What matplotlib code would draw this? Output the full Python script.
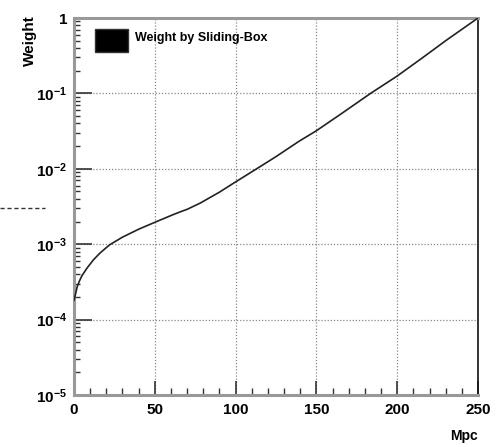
import numpy as np
import matplotlib
matplotlib.use('Agg')
import matplotlib.pyplot as plt
from matplotlib.lines import Line2D
from matplotlib.patches import Rectangle
from matplotlib.ticker import FixedLocator, NullFormatter

plt.rcParams['font.family'] = ['Liberation Sans', 'DejaVu Sans']
plt.rcParams['font.weight'] = 'bold'
plt.rcParams['mathtext.fontset'] = 'custom'
plt.rcParams['mathtext.rm'] = 'Liberation Sans:bold'
plt.rcParams['mathtext.default'] = 'rm'

# weight vs distance (Mpc)
mpc = [0, 1, 2, 3.5, 5, 8, 12, 16, 22, 30, 40, 50, 60, 65, 70, 78, 90, 98,
       113, 125, 139, 150, 165, 183.5, 200, 215, 230, 250]
weight = [1.8e-4, 2.2e-4, 2.75e-4, 3.3e-4, 3.85e-4, 4.8e-4, 6.2e-4, 7.6e-4,
          9.8e-4, 1.24e-3, 1.58e-3, 1.95e-3, 2.4e-3, 2.65e-3, 2.9e-3, 3.5e-3,
          4.9e-3, 6.3e-3, 1.0e-2, 1.45e-2, 2.3e-2, 3.2e-2, 5.3e-2, 0.1, 0.17,
          0.29, 0.5, 1.0]

xticks = [0, 50, 100, 150, 200, 250]
yticks = [1e-5, 1e-4, 1e-3, 1e-2, 1e-1, 1]
ylabels = ['10$^{-5}$', '10$^{-4}$', '10$^{-3}$', '10$^{-2}$', '10$^{-1}$', '1']

fig = plt.figure(figsize=(5.01, 4.47), dpi=100)
ax = fig.add_axes([74/501, 1 - 395/447, 404/501, 377/447])

ax.plot(mpc, weight, color='#222222', lw=1.2, zorder=3)
ax.set_yscale('log')
ax.set_xlim(0, 250)
ax.set_ylim(1e-5, 1)

ax.xaxis.set_major_locator(FixedLocator(xticks))
ax.xaxis.set_minor_locator(FixedLocator(np.arange(0, 251, 10)))
ax.set_xticklabels([str(t) for t in xticks])
ax.yaxis.set_major_locator(FixedLocator(yticks))
minors = [m * 10.0**e for e in range(-5, 0) for m in range(2, 10)]
ax.yaxis.set_minor_locator(FixedLocator(minors))
ax.yaxis.set_minor_formatter(NullFormatter())
ax.set_yticklabels(ylabels)

ax.tick_params(axis='both', which='both', direction='in', color='#333333',
               labelsize=11, top=False, right=False)
ax.tick_params(axis='x', which='major', length=10, width=1.2, pad=6)
ax.tick_params(axis='x', which='minor', length=5, width=1.0)
ax.tick_params(axis='y', which='major', length=13, width=1.2, pad=5)
ax.tick_params(axis='y', which='minor', length=4.5, width=1.0)

ax.grid(True, which='major', ls=(0, (1, 1.5)), color='#888888', lw=0.9)

for s in ['left', 'bottom', 'top']:
    ax.spines[s].set_color('#999999')
    ax.spines[s].set_linewidth(2.2)
ax.spines['right'].set_color('#111111')
ax.spines['right'].set_linewidth(1.2)

fig.text(30/501, 1 - 15/447, 'Weight', rotation=90, ha='center', va='top',
         fontsize=11, fontweight='bold')
fig.text(478/501, 1 - 436/447, 'Mpc', ha='right', va='center',
         fontsize=10, fontweight='bold')

# legend box
fig.patches.append(Rectangle((95/501, 1 - 52/447), 33/501, 23/447,
                             transform=fig.transFigure, facecolor='black',
                             edgecolor='#333333', lw=1))
fig.text(135/501, 1 - 38/447, 'Weight by Sliding-Box', ha='left', va='center',
         fontsize=9, fontweight='bold')

# stray dashed segment on the left margin
fig.add_artist(Line2D([0, 45/501], [1 - 208/447, 1 - 208/447],
                      transform=fig.transFigure, color='#333333',
                      lw=1.0, ls=(0, (3, 2))))

fig.savefig('out.png', dpi=100)
